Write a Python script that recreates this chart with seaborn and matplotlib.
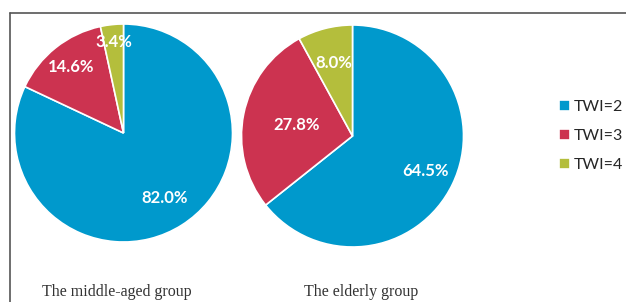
import numpy as np
import matplotlib
matplotlib.use("Agg")
import matplotlib.pyplot as plt
from matplotlib.lines import Line2D
import seaborn as sns

# Data
categories = ["TWI=2", "TWI=3", "TWI=4"]
middle_aged = [82.0, 14.6, 3.4]
elderly = [64.5, 27.8, 8.0]
group_names = ["The middle-aged group", "The elderly group"]

colors = ["#0099cc", "#cc3350", "#b4be3c"]

sns.set_theme(style="white")
plt.rcParams["font.family"] = ["Lato", "DejaVu Sans"]

W, H = 626, 302
fig = plt.figure(figsize=(W / 100, H / 100), dpi=100)
fig.patch.set_facecolor("white")


def px_axes(cx, cy, r):
    # axes box in pixel terms (cy from top)
    return fig.add_axes([(cx - r) / W, (H - cy - r) / H, 2 * r / W, 2 * r / H])


# (center x, center y, radius, label distance per wedge, caption x)
layout = [
    (123.5, 133, 109, [0.71, 0.77, 0.84], 116.5),
    (352.5, 136, 111, [0.73, 0.51, 0.68], 361),
]

wedges_all = []
for vals, (cx, cy, r, dists, _) in zip([middle_aged, elderly], layout):
    ax = px_axes(cx, cy, r)
    wedges, _ = ax.pie(vals, colors=sns.color_palette(colors), startangle=90,
                       counterclock=False, radius=1,
                       wedgeprops=dict(edgecolor="white", linewidth=1.2))
    ax.set_xlim(-1, 1)
    ax.set_ylim(-1, 1)
    ax.set_aspect("equal")
    ax.axis("off")
    for w, v, d in zip(wedges, vals, dists):
        ang = np.deg2rad((w.theta1 + w.theta2) / 2)
        ax.text(d * np.cos(ang), d * np.sin(ang), f"{v:.1f}%", color="white",
                fontsize=12, fontweight="bold", ha="center", va="center")
    wedges_all = wedges

# group captions
for name, (_, _, _, _, tx) in zip(group_names, layout):
    fig.text(tx / W, 1 - 292 / H, name,
             family=["Liberation Serif", "DejaVu Serif"], fontsize=11.5,
             color="#333333", ha="center", va="center")

# legend
fig.legend(wedges_all, categories, loc="center left",
           bbox_to_anchor=(559 / W, 1 - 136 / H), frameon=False,
           fontsize=11.5, handlelength=0.7, handleheight=0.7, handletextpad=0.2,
           labelspacing=0.95, borderaxespad=0, borderpad=0)

# outer frame (open on the right and bottom)
fig.add_artist(Line2D([10 / W, 10 / W], [0, 1 - 13 / H], transform=fig.transFigure,
                      color="#555555", linewidth=1.2))
fig.add_artist(Line2D([10 / W, 1], [1 - 13 / H, 1 - 13 / H], transform=fig.transFigure,
                      color="#555555", linewidth=1.2))

fig.savefig("out.png", dpi=100)
